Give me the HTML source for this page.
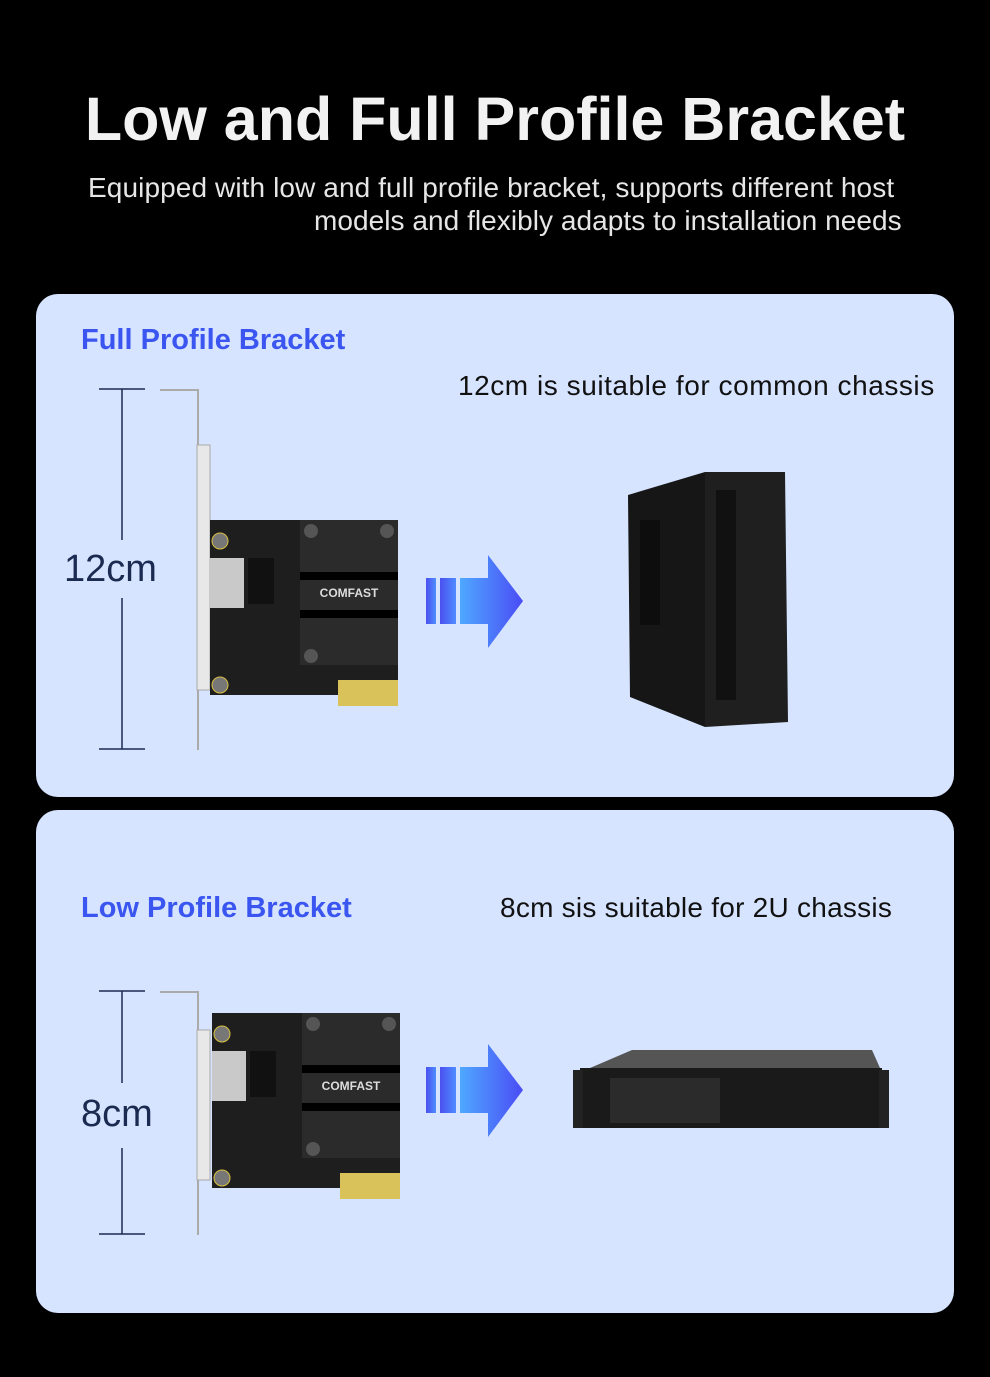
<!DOCTYPE html>
<html><head><meta charset="utf-8"><style>
body{margin:0;width:990px;height:1377px;background:#000;position:relative;overflow:hidden;font-family:"Liberation Sans",sans-serif}
.t{position:absolute;white-space:nowrap}
.panel{position:absolute;left:36px;width:918px;height:503px;background:#d6e4ff;border-radius:22px}
</style></head><body>
<div class="t" style="left:0;width:990px;text-align:center;top:84px;font-size:61px;font-weight:bold;color:#f2f2f2;letter-spacing:0px">Low and Full Profile Bracket</div>
<div class="t" style="left:88px;top:172px;font-size:28px;color:#e6e6e6;letter-spacing:0.1px">Equipped with low and full profile bracket, supports different host</div>
<div class="t" style="left:314px;top:205px;font-size:28px;color:#e6e6e6;letter-spacing:0.05px">models and flexibly adapts to installation needs</div>
<div class="panel" style="top:294px"></div>
<div class="panel" style="top:810px"></div>
<div class="t" style="left:81px;top:324px;font-size:29px;font-weight:bold;color:#3a55f0">Full Profile Bracket</div>
<div class="t" style="left:458px;top:370px;font-size:28px;color:#111;letter-spacing:0.55px">12cm is suitable for common chassis</div>
<div class="t" style="left:64px;top:548px;font-size:38px;color:#1a2a50">12cm</div>
<div class="t" style="left:81px;top:892px;font-size:29px;font-weight:bold;color:#3a55f0">Low Profile Bracket</div>
<div class="t" style="left:500px;top:892px;font-size:28px;color:#111;letter-spacing:0.25px">8cm sis suitable for 2U chassis</div>
<div class="t" style="left:81px;top:1093px;font-size:38px;color:#1a2a50">8cm</div>
<svg width="990" height="1377" style="position:absolute;left:0;top:0">
<defs>
<linearGradient id="ag" x1="0" x2="1"><stop offset="0" stop-color="#4fa8ff"/><stop offset="1" stop-color="#4a4cf5"/></linearGradient>
<linearGradient id="bg" x1="0" x2="1"><stop offset="0" stop-color="#4b50f0"/><stop offset="1" stop-color="#4f8cff"/></linearGradient>
<g id="card">
<rect x="0" y="0" width="188" height="175" fill="#1e1e1e"/>
<rect x="90" y="0" width="98" height="145" fill="#2b2b2b"/>
<rect x="90" y="52" width="98" height="8" fill="#000"/>
<rect x="90" y="90" width="98" height="8" fill="#000"/>
<text x="139" y="77" font-size="12" font-weight="bold" fill="#ddd" text-anchor="middle" font-family="Liberation Sans">COMFAST</text>
<circle cx="101" cy="11" r="7" fill="#555"/><circle cx="177" cy="11" r="7" fill="#555"/><circle cx="101" cy="136" r="7" fill="#555"/>
<rect x="0" y="38" width="34" height="50" fill="#c9c9c9"/>
<rect x="38" y="38" width="26" height="46" fill="#111"/>
<circle cx="10" cy="21" r="8" fill="#777" stroke="#d8c040"/><circle cx="10" cy="165" r="8" fill="#777" stroke="#d8c040"/>
<rect x="128" y="160" width="60" height="26" fill="#d9c25a"/>
<rect x="90" y="145" width="36" height="30" fill="#1e1e1e"/>
</g>
</defs>
<g stroke="#1a2a50" stroke-width="1.5"><line x1="99" y1="389" x2="145" y2="389"/><line x1="99" y1="749" x2="145" y2="749"/><line x1="122" y1="389" x2="122" y2="540"/><line x1="122" y1="598" x2="122" y2="749"/></g>
<polyline points="160,390 198,390 198,750" fill="none" stroke="#aaa" stroke-width="2"/>
<rect x="197" y="445" width="13" height="245" fill="#e8e8e8" stroke="#aaa"/>
<use href="#card" x="210" y="520"/>
<rect x="426" y="578" width="10" height="46" fill="url(#bg)"/><rect x="440" y="578" width="16" height="46" fill="url(#bg)"/>
<polygon points="460,578 488,578 488,555 523,601 488,648 488,624 460,624" fill="url(#ag)"/>
<polygon points="628,495 705,472 705,727 630,697" fill="#161616"/>
<polygon points="705,472 785,472 788,722 705,727" fill="#1f1f1f"/>
<rect x="640" y="520" width="20" height="105" fill="#0d0d0d"/>
<rect x="716" y="490" width="20" height="210" fill="#111"/>
<g stroke="#1a2a50" stroke-width="1.5"><line x1="99" y1="991" x2="145" y2="991"/><line x1="99" y1="1234" x2="145" y2="1234"/><line x1="122" y1="991" x2="122" y2="1083"/><line x1="122" y1="1148" x2="122" y2="1234"/></g>
<polyline points="160,992 198,992 198,1235" fill="none" stroke="#aaa" stroke-width="2"/>
<rect x="197" y="1030" width="13" height="150" fill="#e8e8e8" stroke="#aaa"/>
<use href="#card" x="212" y="1013"/>
<rect x="426" y="1067" width="10" height="46" fill="url(#bg)"/><rect x="440" y="1067" width="16" height="46" fill="url(#bg)"/>
<polygon points="460,1067 488,1067 488,1044 523,1090 488,1137 488,1113 460,1113" fill="url(#ag)"/>
<polygon points="590,1068 632,1050 872,1050 880,1068" fill="#555"/>
<rect x="580" y="1068" width="302" height="60" fill="#1a1a1a"/>
<rect x="573" y="1070" width="10" height="58" fill="#222"/><rect x="879" y="1070" width="10" height="58" fill="#222"/>
<rect x="610" y="1078" width="110" height="45" fill="#2b2b2b"/>
</svg>
</body></html>
